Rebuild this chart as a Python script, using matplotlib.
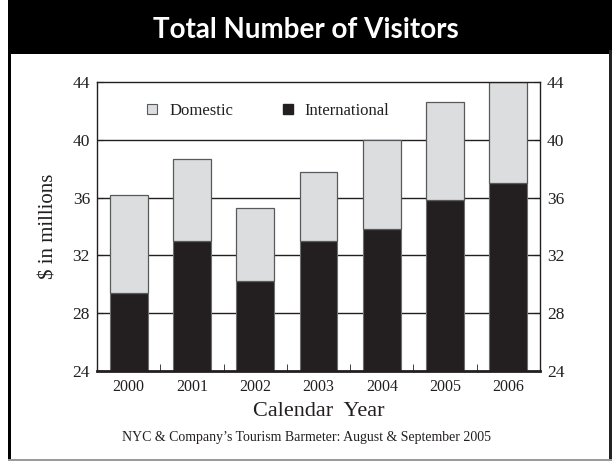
import matplotlib
matplotlib.use("Agg")
import matplotlib.pyplot as plt
from matplotlib.patches import Rectangle, Patch

# values
years = ["2000", "2001", "2002", "2003", "2004", "2005", "2006"]
international = [29.4, 33.0, 30.2, 33.0, 33.8, 35.8, 37.0]
domestic = [6.8, 5.7, 5.1, 4.8, 6.2, 6.8, 7.0]
y_ticks = [24, 28, 32, 36, 40, 44]

dark = "#231f20"
light = "#dcdddf"
serif = ["Liberation Serif", "DejaVu Serif"]

plt.rcParams["font.family"] = serif

W, H = 612, 461
fig = plt.figure(figsize=(W / 100, H / 100), dpi=100)


def px_rect(x0, y0, x1, y1, color):
    # rectangle given in pixel coords measured from the top-left corner
    fig.patches.append(Rectangle((x0 / W, 1 - y1 / H), (x1 - x0) / W, (y1 - y0) / H,
                                 transform=fig.transFigure, facecolor=color,
                                 edgecolor="none"))


# outer frame and black title band
px_rect(8, 0, W, 54, "black")
px_rect(8, 50, 11, H, "black")
px_rect(609, 50, W, H, "#222222")
px_rect(8, 459, W, H, "#9a9a9a")
fig.text(0.5, 1 - 38 / H, "Total Number of Visitors", color="white", fontsize=20,
         fontweight="bold", family=["Lato", "DejaVu Sans"], ha="center", va="baseline")

ax = fig.add_axes([97 / W, 1 - 371 / H, 443 / W, 289 / H])
x = list(range(len(years)))

for v in y_ticks[1:-1]:
    ax.axhline(v, color=dark, linewidth=1.0, zorder=1)

ax.bar(x, international, width=0.6, color=dark, edgecolor="#6d6e70",
       linewidth=0.8, zorder=2)
ax.bar(x, domestic, width=0.6, bottom=international, color=light,
       edgecolor="#58595b", linewidth=0.9, zorder=2)

ax.set_xlim(-0.5, 6.5)
ax.set_ylim(24, 44)
ax.set_yticks(y_ticks)
ax.set_xticks(x)
ax.set_xticklabels(years, fontsize=11.5, color=dark)
ax.set_xticks([i + 0.5 for i in x[:-1]], minor=True)
ax.tick_params(axis="x", which="major", length=0, pad=6)
ax.tick_params(axis="x", which="minor", direction="in", length=5, color=dark)
ax.tick_params(axis="y", direction="in", length=4, right=True, labelright=True,
               labelsize=12.5, colors=dark, pad=5)

for side in ["left", "right", "top"]:
    ax.spines[side].set_color(dark)
    ax.spines[side].set_linewidth(1.0)
ax.spines["bottom"].set_color(dark)
ax.spines["bottom"].set_linewidth(2.0)

ax.set_xlabel("Calendar  Year", fontsize=16, color=dark, labelpad=5)
ax.set_ylabel("$ in millions", fontsize=15, color=dark, labelpad=10)

handles = [Patch(facecolor=light, edgecolor="#58595b", linewidth=0.8),
           Patch(facecolor=dark, edgecolor=dark)]
ax.legend(handles, ["Domestic", "International"], ncol=2, frameon=False,
          loc="center left", bbox_to_anchor=(0.08, 0.9), fontsize=12,
          handlelength=0.6, handleheight=0.6, handletextpad=0.7,
          columnspacing=3.0, labelcolor=dark)

fig.text(0.5, 1 - 437 / H, "NYC & Company\u2019s Tourism Barmeter: August & September 2005",
         fontsize=10, color=dark, ha="center", va="center")

fig.savefig("out.png", dpi=100)
